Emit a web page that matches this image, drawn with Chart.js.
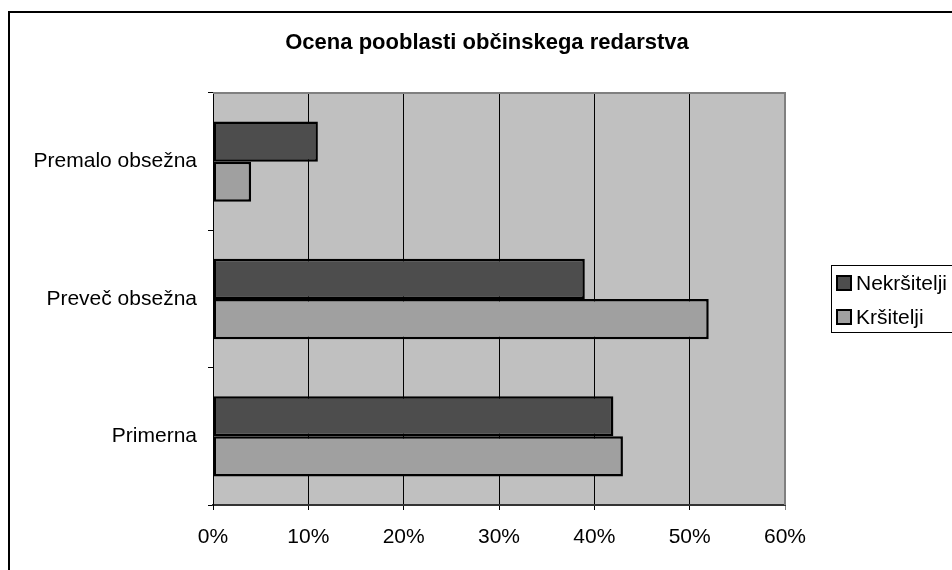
<!DOCTYPE html>
<html>
<head>
<meta charset="utf-8">
<title>Ocena pooblasti občinskega redarstva</title>
<script src="https://cdn.jsdelivr.net/npm/chart.js@4/dist/chart.umd.min.js"></script>
<style>
  html, body { margin: 0; padding: 0; background: #fff; overflow: hidden; }
  canvas { display: block; }
</style>
</head>
<body>
<canvas id="myChart" width="952" height="570"></canvas>
<script>
var chartTitle = 'Ocena pooblasti občinskega redarstva';
var categories = ['Premalo obsežna', 'Preveč obsežna', 'Primerna'];
var seriesNames = ['Nekršitelji', 'Kršitelji'];
var nekrsitelji = [11, 39, 42];
var krsitelji = [4, 52, 43];
var xTicks = [0, 10, 20, 30, 40, 50, 60];

var barColors = ['#4d4d4d', '#a0a0a0'];
var font = '"Liberation Sans", Arial, sans-serif';

// plot background, frame, title and the boxed legend on the right
var excelLook = {
    id: 'excelLook',
    beforeDraw: function (chart) {
        var c = chart.ctx, a = chart.chartArea;
        c.save();
        c.fillStyle = '#fff';
        c.fillRect(0, 0, chart.width, chart.height);
        c.fillStyle = '#c0c0c0';
        c.fillRect(a.left, a.top, a.right - a.left, a.bottom - a.top);
        c.restore();
    },
    afterDraw: function (chart) {
        var c = chart.ctx, a = chart.chartArea;
        c.save();
        // outer frame (top and left edges)
        c.strokeStyle = '#000';
        c.lineWidth = 2;
        c.beginPath();
        c.moveTo(9, chart.height + 5);
        c.lineTo(9, 12);
        c.lineTo(chart.width + 5, 12);
        c.stroke();

        // plot area top and right edges
        c.strokeStyle = '#808080';
        c.lineWidth = 2;
        c.beginPath();
        c.moveTo(a.left, a.top);
        c.lineTo(a.right, a.top);
        c.lineTo(a.right, a.bottom);
        c.stroke();

        // title
        c.fillStyle = '#000';
        c.font = 'bold 22px ' + font;
        c.textAlign = 'center';
        c.textBaseline = 'middle';
        c.fillText(chartTitle, 487, 43);

        // legend
        c.strokeStyle = '#000';
        c.lineWidth = 1;
        c.strokeRect(831.5, 265.5, 140, 67);
        c.font = '21px ' + font;
        c.textAlign = 'left';
        chart.data.datasets.forEach(function (ds, i) {
            var y = 283 + i * 34;
            c.fillStyle = ds.backgroundColor;
            c.fillRect(837, y - 7, 14, 14);
            c.lineWidth = 2;
            c.strokeRect(837, y - 7, 14, 14);
            c.fillStyle = '#000';
            c.fillText(ds.label, 856, y + 1);
        });
        c.restore();
    }
};

new Chart('myChart', {
    type: 'bar',
    data: {
        labels: categories,
        datasets: [{
            label: seriesNames[0],
            data: nekrsitelji,
            backgroundColor: barColors[0],
            borderColor: '#000',
            borderWidth: 2.5,
            borderSkipped: false
        }, {
            label: seriesNames[1],
            data: krsitelji,
            backgroundColor: barColors[1],
            borderColor: '#000',
            borderWidth: 2.5,
            borderSkipped: false
        }]
    },
    options: {
        indexAxis: 'y',
        responsive: false,
        animation: false,
        layout: { padding: { top: 93, right: 167, left: 0, bottom: 0 } },
        datasets: { bar: { categoryPercentage: 0.585, barPercentage: 1 } },
        plugins: {
            legend: { display: false },
            title: { display: false },
            tooltip: { enabled: false }
        },
        scales: {
            x: {
                min: 0,
                max: 60,
                afterBuildTicks: function (scale) {
                    scale.ticks = xTicks.map(function (v) { return { value: v }; });
                },
                afterFit: function (scale) { scale.height = 65; },
                ticks: {
                    color: '#000',
                    font: { family: font, size: 21 },
                    padding: 15,
                    maxRotation: 0,
                    callback: function (v) { return v + '%'; }
                },
                grid: {
                    color: function (ctx) {
                        return ctx.tick && ctx.tick.value === 60 ? '#808080' : '#000';
                    },
                    lineWidth: 1,
                    tickLength: 5
                },
                border: { color: '#333', width: 2 }
            },
            y: {
                afterFit: function (scale) { scale.width = 213; },
                ticks: {
                    color: '#000',
                    font: { family: font, size: 21 },
                    padding: 11
                },
                grid: {
                    drawOnChartArea: false,
                    color: '#000',
                    tickLength: 5
                },
                border: { color: '#000', width: 1 }
            }
        }
    },
    plugins: [excelLook]
});
</script>
</body>
</html>
